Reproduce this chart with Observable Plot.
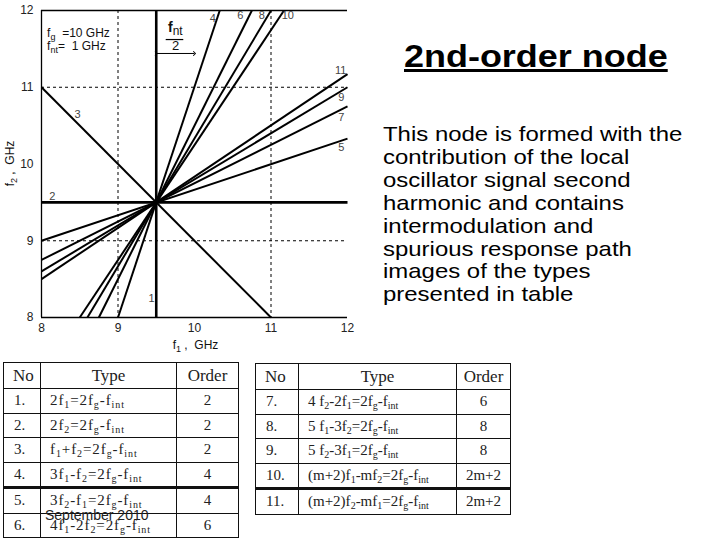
<!DOCTYPE html>
<html><head><meta charset="utf-8">
<script src="https://cdn.jsdelivr.net/npm/d3@7"></script>
<script src="https://cdn.jsdelivr.net/npm/@observablehq/plot@0.6"></script>
<style>
body{margin:0;background:#fff;}
#page{position:relative;width:720px;height:540px;overflow:hidden;font-family:"Liberation Sans",Arial,sans-serif;color:#000;}
#chart{position:absolute;left:0;top:0;}
#title{position:absolute;left:404px;top:41px;font-size:31px;line-height:31px;font-weight:bold;text-decoration:underline;white-space:nowrap;transform:scaleX(1.16);transform-origin:left top;}
#body{position:absolute;left:383px;top:123px;font-size:21px;line-height:22.9px;white-space:nowrap;transform:scaleX(1.14);transform-origin:left top;}
table.tb{position:absolute;border-collapse:collapse;table-layout:fixed;font-family:"Liberation Serif","Times New Roman",serif;color:#222;}
table.tb th, table.tb td{border:1px solid #111;padding:0;overflow:hidden;white-space:nowrap;}
table.tb th{font-weight:normal;font-size:17px;height:25px;}
table.tb td{font-size:15px;height:23.5px;}
table.tb td.no{padding-left:10px;}
table.tb th.no{text-align:left;padding-left:9px;}
table.tb td.ty{padding-left:9px;}
table.tb.wide td.ty{letter-spacing:0.9px;}
table.tb td.or{text-align:center;}
table.tb tr.thick td{border-top:3px solid #111;}
sub{font-size:10px;vertical-align:-3px;line-height:0;}
#foot{position:absolute;left:45px;top:508px;font-size:14px;line-height:14px;color:#222;white-space:nowrap;}
</style></head>
<body><div id="page">
<div id="chart"></div>
<div id="title">2nd-order node</div>
<div id="body">This node is formed with the<br>contribution of the local<br>oscillator signal second<br>harmonic and contains<br>intermodulation and<br>spurious response path<br>images of the types<br>presented in table</div>
<div id="tables"></div>
<div id="foot">September 2010</div>
</div>
<script>
// ---- chart data (GHz) ----
const xTicks = [8, 9, 10, 11, 12];
const yTicks = [8, 9, 10, 11, 12];
const gridValues = [9, 11];
const lineNo  = [1, 2, 3, 4, 5, 6, 7, 8, 9, 10, 11];
const f1Start = [9.5, 8, 8, 9, 8, 8.75, 8, 8.6, 8, 8.5, 8];
const f2Start = [8, 9.5, 11, 8, 9, 8, 8.75, 8, 8.6, 8, 8.5];
const f1End   = [9.5, 12, 11, 10.33, 12, 10.75, 12, 11, 12, 11.17, 12];
const f2End   = [12, 9.5, 8, 12, 10.33, 12, 10.75, 12, 11, 12, 11.17];
const labelF1 = [9.44, 8.14, 8.47, 10.24, 11.92, 10.6, 11.92, 10.88, 11.92, 11.22, 11.91];
const labelF2 = [8.25, 9.58, 10.64, 11.9, 10.22, 11.93, 10.61, 11.93, 10.87, 11.93, 11.22];
const arrowF1 = [9.5, 10];
const arrowF2 = 11.44;

// ---- table data ----
const tableNo    = ["1.", "2.", "3.", "4.", "5.", "6.", "7.", "8.", "9.", "10.", "11."];
const tableType  = ["2f_1=2f_g-f_int", "2f_2=2f_g-f_int", "f_1+f_2=2f_g-f_int", "3f_1-f_2=2f_g-f_int",
                    "3f_2-f_1=2f_g-f_int", "4f_1-2f_2=2f_g-f_int", "4 f_2-2f_1=2f_g-f_int", "5 f_1-3f_2=2f_g-f_int",
                    "5 f_2-3f_1=2f_g-f_int", "(m+2)f_1-mf_2=2f_g-f_int", "(m+2)f_2-mf_1=2f_g-f_int"];
const tableOrder = ["2", "2", "2", "4", "4", "6", "6", "8", "8", "2m+2", "2m+2"];
const tableHeaders = ["No", "Type", "Order"];

const lines = lineNo.map((n, i) => ({no: n, x1: f1Start[i], y1: f2Start[i], x2: f1End[i], y2: f2End[i]}));
const labels = lineNo.map((n, i) => ({t: String(n), x: labelF1[i], y: labelF2[i]}));
const arrow = [{x1: arrowF1[0], x2: arrowF1[1], y: arrowF2}];

const chart = Plot.plot({
  width: 720, height: 360,
  marginLeft: 41, marginRight: 373, marginTop: 10, marginBottom: 43,
  x: {domain: [8, 12], ticks: xTicks, tickSize: 0, tickPadding: 6, label: null, tickFormat: d => String(d)},
  y: {domain: [8, 12], ticks: yTicks, tickSize: 0, tickPadding: 8, label: null, tickFormat: d => String(d)},
  style: {fontFamily: "Liberation Sans, Arial, sans-serif", fontSize: "12px", color: "#222", background: "transparent", overflow: "visible"},
  marks: [
    Plot.ruleX(gridValues, {stroke: "#000", strokeWidth: 1, strokeDasharray: "3,3"}),
    Plot.ruleY(gridValues, {stroke: "#000", strokeWidth: 1, strokeDasharray: "3,3"}),
    Plot.ruleX([8], {stroke: "#000", strokeWidth: 1.3}),
    Plot.ruleY([8], {stroke: "#000", strokeWidth: 1.3}),
    Plot.ruleY([12], {stroke: "#000", strokeWidth: 1.3}),
    Plot.link(lines, {x1: "x1", y1: "y1", x2: "x2", y2: "y2", stroke: "#000",
      strokeWidth: d => d.no <= 2 ? 2.6 : 2,
      strokeDasharray: d => d.no >= 10 ? "6,3" : null}),
    Plot.text(labels, {x: "x", y: "y", text: "t", fontSize: 11, fill: "#444"}),
    Plot.link(arrow, {x1: "x1", x2: "x2", y1: "y", y2: "y", stroke: "#000", strokeWidth: 1, markerStart: "arrow", markerEnd: "arrow"})
  ]
});
document.getElementById("chart").appendChild(chart);

// annotations with subscripts, positioned through the chart's scales
const xs = chart.scale("x"), ys = chart.scale("y");
const X = d3.scaleLinear(xs.domain, xs.range), Y = d3.scaleLinear(ys.domain, ys.range);
const svg = d3.select(chart);
const g = svg.append("g").attr("font-family", "Liberation Sans, Arial, sans-serif").attr("fill", "#111").attr("text-anchor", "start");
function rich(parent, parts, x, y, size, subScale = 0.75) {
  const t = parent.append("text").attr("x", x).attr("y", y).attr("font-size", size).attr("text-anchor", "start");
  parts.forEach(p => {
    const s = t.append("tspan").text(p[0]);
    if (p[1] === "sub") s.attr("font-size", size * subScale).attr("dy", 3);
    if (p[1] === "up") s.attr("dy", -3);
    if (p[2]) s.attr("font-weight", "bold");
  });
  return t;
}
rich(g, [["f"], ["g", "sub"], ["  =10 GHz", "up"]], X(8.08), Y(11.65), 12).style("white-space", "pre");
rich(g, [["f"], ["nt", "sub"], ["=  1 GHz", "up"]], X(8.08), Y(11.48), 12).style("white-space", "pre");
rich(g, [["f", null, true], ["nt", "sub"]], X(9.66), Y(11.71), 14, 0.85);
g.append("line").attr("x1", X(9.63)).attr("x2", X(9.86)).attr("y1", Y(11.615)).attr("y2", Y(11.615)).attr("stroke", "#000").attr("stroke-width", 1.2);
g.append("text").attr("x", X(9.76)).attr("y", Y(11.485)).attr("font-size", 13).attr("text-anchor", "middle").text("2");
// axis labels
rich(g, [["f"], ["1", "sub"], [" ,  GHz", "up"]], 0, 0, 12).attr("text-anchor", "middle").attr("x", X(10.02)).attr("y", 349).style("white-space", "pre");
rich(g, [["f"], ["2", "sub"], [" ,  GHz", "up"]], 0, 0, 12).attr("text-anchor", "middle").style("white-space", "pre")
  .attr("transform", `translate(14,${Y(10.0)}) rotate(-90)`);

// tables
function fmt(s) { return s.replace(/_([a-z0-9]+)/g, "<sub>$1</sub>"); }
function makeTable(idx, left, top, widths, thickRow, cls) {
  const t = document.createElement("table");
  t.className = "tb " + cls;
  t.style.left = left + "px"; t.style.top = top + "px";
  t.style.width = widths.reduce((a, b) => a + b, 0) + "px";
  let h = "<colgroup>" + widths.map(w => `<col style="width:${w}px">`).join("") + "</colgroup>";
  h += `<tr><th class="no">${tableHeaders[0]}</th><th>${tableHeaders[1]}</th><th>${tableHeaders[2]}</th></tr>`;
  idx.forEach(i => {
    h += `<tr${i === thickRow ? ' class="thick"' : ""}><td class="no">${tableNo[i]}</td><td class="ty">${fmt(tableType[i])}</td><td class="or">${tableOrder[i]}</td></tr>`;
  });
  t.innerHTML = h;
  document.getElementById("tables").appendChild(t);
}
makeTable([0, 1, 2, 3, 4, 5], 3, 362, [37, 136, 62], 4, "wide");
makeTable([6, 7, 8, 9, 10], 255, 363, [43, 158, 54], 10, "");
</script>
</body></html>
